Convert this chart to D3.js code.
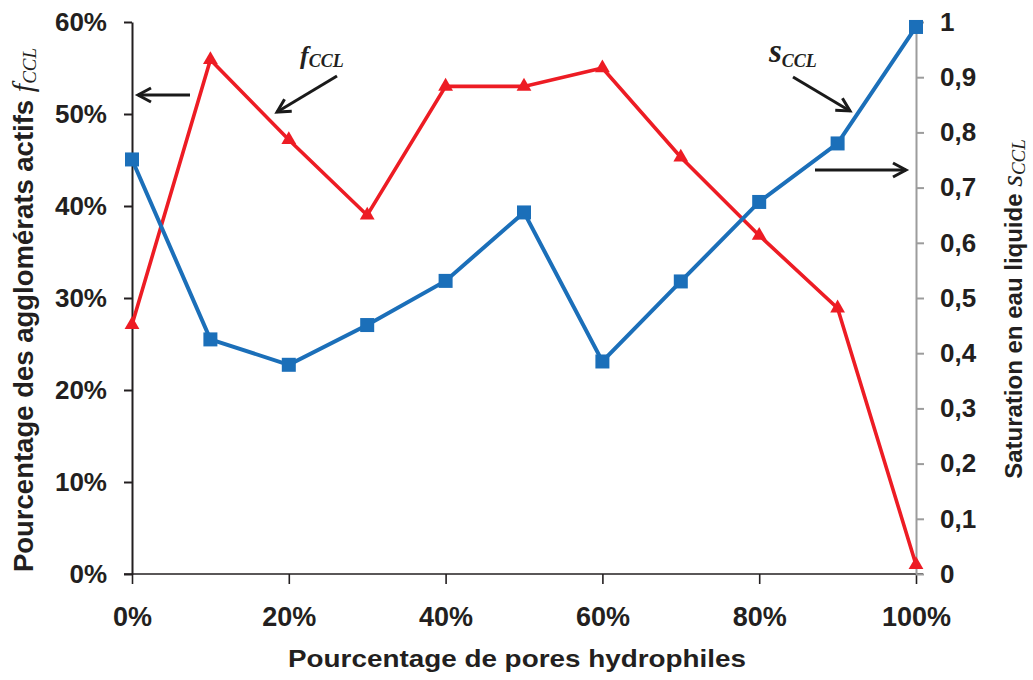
<!DOCTYPE html>
<html>
<head>
<meta charset="utf-8">
<script src="https://cdn.jsdelivr.net/npm/d3@7"></script>
<style>
  html, body { margin: 0; padding: 0; background: #fff; }
  svg { display: block; }
</style>
</head>
<body>
<svg id="chart" width="1033" height="680"></svg>
<script>
// ---- data ----
const hydrophilic = [0, 10, 20, 30, 40, 50, 60, 70, 80, 90, 100];
const fCCL = [27.1, 55.9, 47.2, 39.0, 53.0, 53.0, 55.0, 45.3, 36.8, 28.9, 1.0]; // %
const sCCL = [0.751, 0.425, 0.379, 0.451, 0.531, 0.655, 0.385, 0.530, 0.674, 0.780, 0.991];
const xTicks = [0, 20, 40, 60, 80, 100];
const xTickLabels = ["0%", "20%", "40%", "60%", "80%", "100%"];
const leftTicks = [0, 10, 20, 30, 40, 50, 60];
const leftTickLabels = ["0%", "10%", "20%", "30%", "40%", "50%", "60%"];
const rightTicks = [0, 0.1, 0.2, 0.3, 0.4, 0.5, 0.6, 0.7, 0.8, 0.9, 1];
const rightTickLabels = ["0", "0,1", "0,2", "0,3", "0,4", "0,5", "0,6", "0,7", "0,8", "0,9", "1"];

const SANS = "'Liberation Sans', Arial, sans-serif";
const SERIF = "'Liberation Serif', 'Times New Roman', serif";
const TXT = "#231f20";
const RED = "#ed1c24";
const BLUE = "#1b6fb9";

const svg = d3.select("#chart");
const L = 132, R = 916, T = 22, B = 574;

const x = d3.scaleLinear().domain([0, 100]).range([L, R]);
const yL = d3.scaleLinear().domain([0, 60]).range([B, T]);
const yR = d3.scaleLinear().domain([0, 1]).range([B, T]);

// ---- axes ----
const gx = svg.append("g").attr("transform", `translate(0,${B})`)
  .call(d3.axisBottom(x).tickValues(xTicks).tickFormat((d, i) => xTickLabels[i])
    .tickSize(10).tickSizeOuter(0).tickPadding(23));
gx.select(".domain").remove();
gx.append("line").attr("x1", L - 8).attr("x2", R + 7).attr("y1", 0).attr("y2", 0)
  .attr("stroke", TXT).attr("stroke-width", 1.6);
gx.selectAll(".tick line").attr("stroke", TXT).attr("stroke-width", 1.6);
gx.selectAll(".tick text").attr("font-family", SANS).attr("font-weight", "bold")
  .attr("font-size", 27).attr("fill", TXT);

const gl = svg.append("g").attr("transform", `translate(${L},0)`)
  .call(d3.axisLeft(yL).tickValues(leftTicks).tickFormat((d, i) => leftTickLabels[i])
    .tickSize(8).tickSizeOuter(0).tickPadding(17));
gl.select(".domain").attr("stroke", TXT).attr("stroke-width", 2);
gl.selectAll(".tick line").attr("stroke", TXT).attr("stroke-width", 2);
gl.selectAll(".tick text").attr("font-family", SANS).attr("font-weight", "bold")
  .attr("font-size", 26).attr("fill", TXT);

const gr = svg.append("g").attr("transform", `translate(${R},0)`)
  .call(d3.axisRight(yR).tickValues(rightTicks).tickFormat((d, i) => rightTickLabels[i])
    .tickSize(8).tickSizeOuter(0).tickPadding(16));
gr.select(".domain").attr("stroke", "#9c9c9c").attr("stroke-width", 2);
gr.selectAll(".tick line").attr("stroke", "#9c9c9c").attr("stroke-width", 2);
gr.selectAll(".tick text").attr("font-family", SANS).attr("font-weight", "bold")
  .attr("font-size", 26).attr("fill", TXT);

// ---- series ----
const redLine = d3.line().x((d, i) => x(hydrophilic[i])).y(d => yL(d));
svg.append("path").datum(fCCL).attr("d", redLine)
  .attr("fill", "none").attr("stroke", RED).attr("stroke-width", 3.6).attr("stroke-linejoin", "miter");
svg.append("g").selectAll("path").data(fCCL).join("path")
  .attr("d", d3.symbol(d3.symbolTriangle, 95))
  .attr("transform", (d, i) => `translate(${x(hydrophilic[i])},${yL(d)})`)
  .attr("fill", RED);

const blueLine = d3.line().x((d, i) => x(hydrophilic[i])).y(d => yR(d));
svg.append("path").datum(sCCL).attr("d", blueLine)
  .attr("fill", "none").attr("stroke", BLUE).attr("stroke-width", 4).attr("stroke-linejoin", "miter");
svg.append("g").selectAll("rect").data(sCCL).join("rect")
  .attr("x", (d, i) => x(hydrophilic[i]) - 7).attr("y", d => yR(d) - 7)
  .attr("width", 14).attr("height", 14).attr("fill", BLUE);

// ---- axis titles ----
svg.append("text").attr("x", 517).attr("y", 667).attr("text-anchor", "middle")
  .attr("font-family", SANS).attr("font-weight", "bold").attr("font-size", 24).attr("fill", TXT)
  .attr("textLength", 458).attr("lengthAdjust", "spacingAndGlyphs")
  .text("Pourcentage de pores hydrophiles");

const lt = svg.append("text").attr("transform", "translate(33,310) rotate(-90)")
  .attr("text-anchor", "middle").attr("fill", TXT);
lt.append("tspan").attr("font-family", SANS).attr("font-weight", "bold").attr("font-size", 27.5)
  .text("Pourcentage des agglomérats actifs ");
lt.append("tspan").attr("font-family", SERIF).attr("font-style", "italic").attr("font-size", 30).text("f");
lt.append("tspan").attr("font-family", SERIF).attr("font-style", "italic").attr("font-size", 19)
  .attr("dy", 3).text("CCL");

const rt = svg.append("text").attr("transform", "translate(1022,309) rotate(-90)")
  .attr("text-anchor", "middle").attr("fill", TXT);
rt.append("tspan").attr("font-family", SANS).attr("font-weight", "bold").attr("font-size", 24)
  .text("Saturation en eau liquide ");
rt.append("tspan").attr("font-family", SERIF).attr("font-style", "italic").attr("font-size", 30).text("s");
rt.append("tspan").attr("font-family", SERIF).attr("font-style", "italic").attr("font-size", 19)
  .attr("dy", 3).text("CCL");

// ---- annotations ----
const defs = svg.append("defs");
defs.append("marker").attr("id", "ah").attr("markerUnits", "userSpaceOnUse")
  .attr("viewBox", "-16 -10 20 20").attr("refX", 0).attr("refY", 0)
  .attr("markerWidth", 20).attr("markerHeight", 20).attr("orient", "auto")
  .append("path").attr("d", "M-13,-7 L0,0 L-13,7").attr("fill", "none")
  .attr("stroke", "#1a1a1a").attr("stroke-width", 3).attr("stroke-linejoin", "miter");

function arrow(x1, y1, x2, y2) {
  svg.append("line").attr("x1", x1).attr("y1", y1).attr("x2", x2).attr("y2", y2)
    .attr("stroke", "#1a1a1a").attr("stroke-width", 3).attr("marker-end", "url(#ah)");
}
arrow(190, 95, 138, 95);
arrow(337, 76, 277, 112);
arrow(793, 77, 850, 111);
arrow(815, 170, 906, 170);

const fa = svg.append("text").attr("x", 300).attr("y", 64).attr("fill", TXT)
  .attr("font-family", SERIF).attr("font-style", "italic").attr("font-weight", "bold");
fa.append("tspan").attr("font-size", 26).text("f");
fa.append("tspan").attr("font-size", 18).attr("dy", 3).text("CCL");

const sa = svg.append("text").attr("x", 769).attr("y", 62).attr("fill", TXT)
  .attr("font-family", SERIF).attr("font-style", "italic").attr("font-weight", "bold");
sa.append("tspan").attr("font-size", 33).text("s");
sa.append("tspan").attr("font-size", 18).attr("dy", 5).text("CCL");
</script>
</body>
</html>
